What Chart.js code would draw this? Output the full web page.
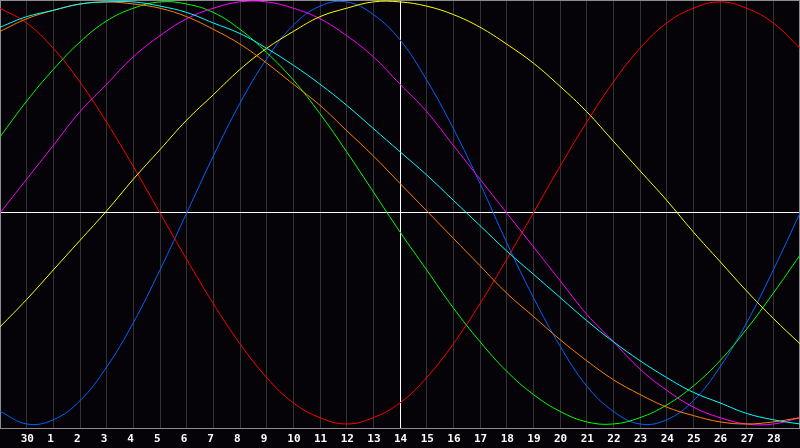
<!DOCTYPE html>
<html>
<head>
<meta charset="utf-8">
<script src="https://cdn.jsdelivr.net/npm/chart.js@4"></script>
<style>
  html, body { margin: 0; padding: 0; background: #050308; }
  canvas { display: block; }
</style>
</head>
<body>
<canvas id="bioChart" width="800" height="448"></canvas>
<script>
// day labels, first and last are hidden (edges of the plot)
let days = ['29','30','1','2','3','4','5','6','7','8','9','10','11','12','13','14',
            '15','16','17','18','19','20','21','22','23','24','25','26','27','28','29']
let todayIndex = 15

// values, -100 .. 100
let red = [97,90,78,62,43,22,0,-22,-43,-62,-78,-90,-97,-100,-97,-90,-78,-62,-43,-22,0,22,43,62,78,90,97,100,97,90,78]
let blue = [-94,-100,-98,-89,-73,-52,-27,0,27,52,73,89,98,100,94,82,63,40,14,-14,-40,-63,-82,-94,-100,-98,-89,-73,-52,-27,0]
let green = [36,53,68,81,91,97,100,99,95,87,76,63,47,29,10,-9,-27,-45,-61,-75,-86,-94,-99,-100,-97,-91,-82,-70,-55,-38,-20]
let magenta = [0,16,32,48,61,74,84,92,97,100,100,97,92,84,74,61,48,32,16,0,-16,-32,-48,-61,-74,-84,-92,-97,-100,-100,-97]
let yellow = [-54,-41,-27,-13,1,16,30,44,56,68,78,86,93,97,100,100,98,94,88,80,71,60,48,34,20,6,-9,-23,-37,-50,-62]
let cyan = [88,93,96,99,100,100,98,95,90,85,78,70,61,51,40,29,18,6,-6,-18,-29,-40,-51,-61,-70,-78,-85,-90,-95,-98,-100]
let orange = [86,92,96,99,100,99,97,93,87,80,71,61,51,39,27,14,1,-12,-25,-38,-49,-60,-70,-79,-86,-92,-96,-99,-100,-99,-97]

const ctx = document.getElementById('bioChart');

const frame = {
    id: 'frame',
    beforeDatasetsDraw: (chart) => {
      const a = chart.chartArea;
      const c = chart.ctx;
      c.save();
      c.strokeStyle = '#8c8c8c';
      c.lineWidth = 1;
      c.strokeRect(a.left + 0.5, a.top + 0.5, a.right - a.left - 1, a.bottom - a.top);
      c.restore();
    }
};

function serie(name, values, color)
{
    return {
        label: name,
        data: values,
        borderColor: color,
        backgroundColor: color,
        borderWidth: 1,
        pointRadius: 0,
        tension: 0.4,
        fill: false
    }
}

const myChart = new Chart(ctx, {
    type: 'line',
    data: {
        labels: days,
        datasets: [
            serie('53', cyan, '#00ffff'),
            serie('48', orange, '#ff8000'),
            serie('43', yellow, '#ffff00'),
            serie('38', magenta, '#ff00ff'),
            serie('33', green, '#00ff00'),
            serie('28', red, '#ff0000'),
            serie('23', blue, '#0064ff')
        ]
    },
    options: {
        responsive: false,
        animation: false,
        layout: { padding: 0 },
        plugins: {
            legend: { display: false },
            tooltip: { enabled: false }
        },
        scales: {
            x: {
                offset: false,
                afterFit: (scale) => {
                    scale.height = 20
                    scale.paddingLeft = 0
                    scale.paddingRight = 0
                },
                border: { display: false },
                grid: {
                    drawTicks: false,
                    color: (c) => {
                        if (c.index === todayIndex) return '#ffffff'
                        if (c.index === 0 || c.index === days.length - 1) return 'rgba(0,0,0,0)'
                        return '#333333'
                    }
                },
                ticks: {
                    autoSkip: false,
                    maxRotation: 0,
                    minRotation: 0,
                    align: 'start',
                    labelOffset: -6,
                    padding: 5,
                    color: '#ffffff',
                    font: { family: 'DejaVu Sans Mono', size: 11, weight: 'bold' },
                    callback: function(value, index) {
                        if (index === 0 || index === days.length - 1) return ''
                        return days[index]
                    }
                }
            },
            y: {
                min: -101.9,
                max: 100.9,
                afterFit: (scale) => {
                    scale.width = 0
                    scale.paddingTop = 0
                    scale.paddingBottom = 0
                },
                afterBuildTicks: (scale) => { scale.ticks = [{ value: 0 }] },
                border: { display: false },
                grid: { color: '#ffffff', drawTicks: false },
                ticks: { display: false }
            }
        }
    },
    plugins: [frame]
});
</script>
</body>
</html>
